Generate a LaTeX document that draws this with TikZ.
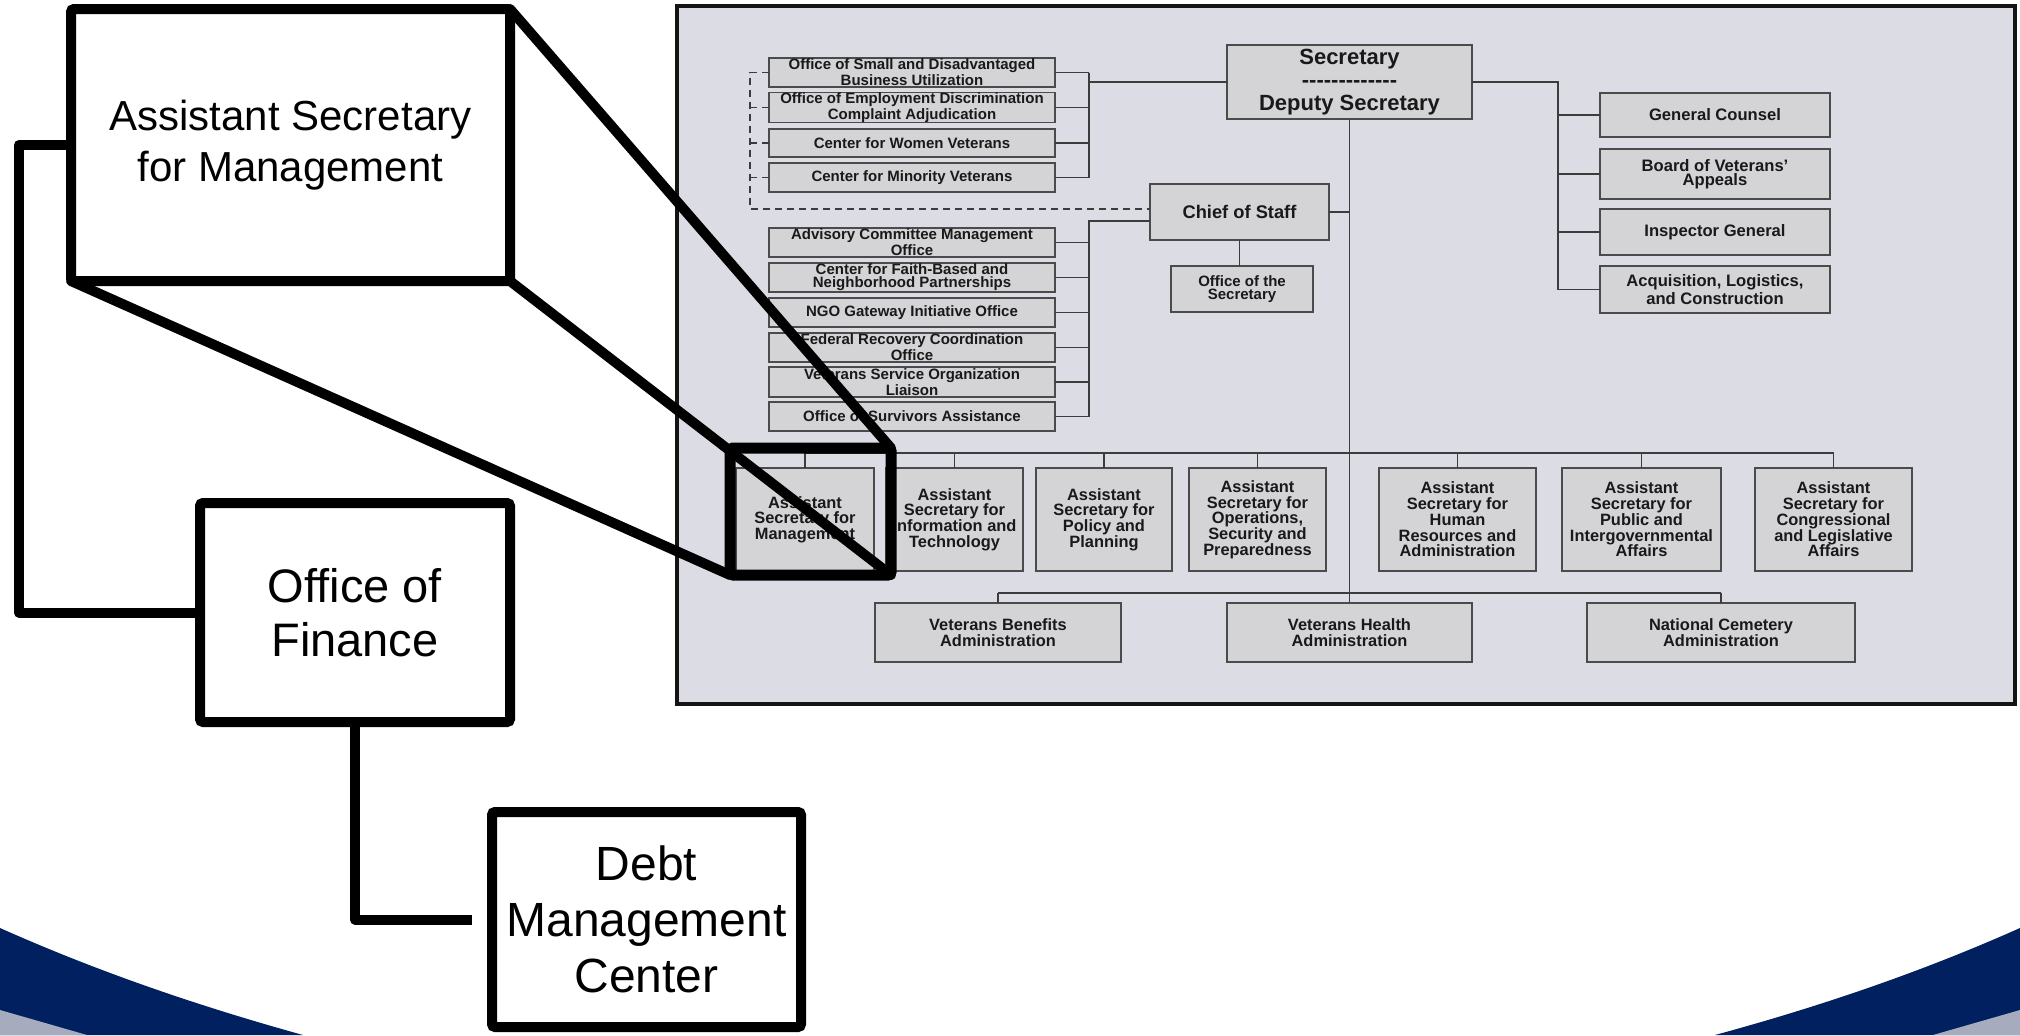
\documentclass[tikz,border=0pt]{standalone}
\usepackage{fontspec}
\setmainfont{Liberation Sans}
\usetikzlibrary{calc}
\definecolor{navy}{RGB}{0,32,96}
\definecolor{bandgray}{RGB}{166,172,189}
\definecolor{chartbg}{RGB}{220,221,228}
\definecolor{boxfill}{RGB}{212,212,215}
\definecolor{boxline}{RGB}{75,75,75}
\definecolor{conn}{RGB}{60,60,60}
\definecolor{ink}{RGB}{25,25,25}
% name, style, x1, y1, x2, y2, text  (pixel coordinates, y downwards)
\newcommand\orgbox[7]{\node[#2, minimum width={(#5-#3)*0.5pt}, minimum height={(#6-#4)*0.5pt}] (#1) at ({(#3+#5)/2},{(#4+#6)/2}) {#7};}
\begin{document}
\begin{tikzpicture}[x=0.5pt,y=-0.5pt,
  cbox/.style={draw=boxline, fill=boxfill, line width=0.9pt, inner sep=0pt, outer sep=0pt, align=center, text=ink, font=\bfseries\fontsize{7.5}{6.6}\selectfont},
  abox/.style={cbox, font=\bfseries\fontsize{8.2}{7.85}\selectfont},
  rbox/.style={cbox, font=\bfseries\fontsize{8.3}{7.2}\selectfont},
  link/.style={draw=conn, line width=0.9pt},
  dlink/.style={draw=conn, line width=0.8pt, dash pattern=on 3.5pt off 2.5pt},
  bigbox/.style={draw=black, fill=white, line width=5pt, outer sep=0pt, inner sep=0pt, align=center, rounded corners=1.5pt},
  zoomr/.style={draw=black, line width=5.5pt, outer sep=0pt, inner sep=0pt, rounded corners=1.5pt},
  thickline/.style={draw=black, line width=5pt, line join=round, line cap=round},
]
\useasboundingbox (0,0) rectangle (2020,1035);
\fill[white] (0,0) rectangle (2020,1035);

% corner waves
\fill[navy] (0,928) .. controls (101,973) and (202,1007) .. (303,1035) -- (0,1035) -- cycle;
\fill[bandgray] (0,1010) -- (87,1035) -- (0,1035) -- cycle;
\fill[navy] (2020,928) .. controls (1919,973) and (1818,1007) .. (1715,1035) -- (2020,1035) -- cycle;
\fill[bandgray] (2020,1010) -- (1933,1035) -- (2020,1035) -- cycle;

% chart frame
\draw[line width=2.3pt, draw=black!92, fill=chartbg] (677,6) rectangle (2015,704);

% top level
\orgbox{sec}{cbox, font=\bfseries\fontsize{11}{11.3}\selectfont}{1227}{45}{1472}{119}{Secretary\\-{}-{}-{}-{}-{}-{}-{}-{}-{}-{}-{}-{}-\\Deputy Secretary}
\orgbox{chief}{cbox, font=\bfseries\fontsize{9.15}{10}\selectfont}{1150}{184}{1329}{240}{Chief of Staff}
\orgbox{ots}{cbox}{1171}{266}{1313}{312}{Office of the\\Secretary}

% upper left group
\orgbox{osdbu}{cbox}{769}{58}{1055}{87}{Office of Small and Disadvantaged\\Business Utilization}
\orgbox{oedca}{cbox}{769}{93}{1055}{122}{Office of Employment Discrimination\\Complaint Adjudication}
\orgbox{cwv}{cbox}{769}{129}{1055}{157}{Center for Women Veterans}
\orgbox{cmv}{cbox}{769}{163}{1055}{192}{Center for Minority Veterans}

% lower left group
\orgbox{acmo}{cbox}{769}{228}{1055}{257}{Advisory Committee Management\\Office}
\orgbox{cfbnp}{cbox}{769}{263}{1055}{292}{Center for Faith-Based and\\Neighborhood Partnerships}
\orgbox{ngo}{cbox}{769}{298}{1055}{327}{NGO Gateway Initiative Office}
\orgbox{frco}{cbox}{769}{333}{1055}{362}{Federal Recovery Coordination\\Office}
\orgbox{vsol}{cbox}{769}{367}{1055}{397}{Veterans Service Organization\\Liaison}
\orgbox{osa}{cbox}{769}{402}{1055}{431}{Office of Survivors Assistance}

% right group
\orgbox{gc}{rbox}{1600}{93}{1830}{137}{General Counsel}
\orgbox{bva}{rbox}{1600}{149}{1830}{199}{Board of Veterans'\\Appeals}
\orgbox{ig}{rbox}{1600}{209}{1830}{255}{Inspector General}
\orgbox{alc}{rbox}{1600}{266}{1830}{313}{Acquisition, Logistics,\\and Construction}

% assistant secretaries
\orgbox{asm}{abox}{736}{468}{874}{571}{Assistant\\Secretary for\\Management}
\orgbox{asit}{abox}{886}{468}{1023}{571}{Assistant\\Secretary for\\Information and\\Technology}
\orgbox{aspp}{abox}{1036}{468}{1172}{571}{Assistant\\Secretary for\\Policy and\\Planning}
\orgbox{asosp}{abox}{1189}{468}{1326}{571}{Assistant\\Secretary for\\Operations,\\Security and\\Preparedness}
\orgbox{ashr}{abox}{1379}{468}{1536}{571}{Assistant\\Secretary for\\Human\\Resources and\\Administration}
\orgbox{aspi}{abox}{1562}{468}{1721}{571}{Assistant\\Secretary for\\Public and\\Intergovernmental\\Affairs}
\orgbox{ascl}{abox}{1755}{468}{1912}{571}{Assistant\\Secretary for\\Congressional\\and Legislative\\Affairs}

% administrations
\orgbox{vba}{abox}{875}{603}{1121}{662}{Veterans Benefits\\Administration}
\orgbox{vha}{abox}{1227}{603}{1472}{662}{Veterans Health\\Administration}
\orgbox{nca}{abox}{1587}{603}{1855}{662}{National Cemetery\\Administration}

% chart connectors
\coordinate (busL) at (1089,0);
\coordinate (busR) at (1558,0);
\coordinate (cy) at (0,221);
\coordinate (asy) at (0,453);
\coordinate (ady) at (0,593);
\coordinate (dl) at (750,209);

\draw[link] (sec.west) -- (sec.west -| busL);
\draw[link] (osdbu.east -| busL) -- (cmv.east -| busL);
\foreach \n in {osdbu,oedca,cwv,cmv} \draw[link] (\n.east) -- (\n.east -| busL);

\draw[link] (chief.west |- cy) -- (busL |- cy) -- (osa.east -| busL);
\foreach \n in {acmo,cfbnp,ngo,frco,vsol,osa} \draw[link] (\n.east) -- (\n.east -| busL);

\draw[link] (sec.east) -| (busR |- alc.west);
\foreach \n in {gc,bva,ig,alc} \draw[link] (\n.west) -- (\n.west -| busR);

\draw[link] (sec.south) -- (vha.north);
\draw[link] (chief.east) -- (chief.east -| sec.south);
\draw[link] (chief.south) -- (chief.south |- ots.north);

\draw[link] (asm.north |- asy) -- (ascl.north |- asy);
\foreach \n in {asm,asit,aspp,asosp,ashr,aspi,ascl} \draw[link] (\n.north) -- (\n.north |- asy);
\draw[link] (vba.north |- ady) -- (nca.north |- ady);
\foreach \n in {vba,nca} \draw[link] (\n.north) -- (\n.north |- ady);

\draw[dlink] (osdbu.west) -| (dl) -- (dl -| chief.west);
\foreach \n in {oedca,cwv,cmv} \draw[dlink] (\n.west) -- (\n.west -| dl);

% magnified overlay
\orgbox{zoomrect}{zoomr}{730}{448}{891}{575}{}
\orgbox{asmbig}{bigbox, font=\fontsize{21}{25.8}\selectfont}{71}{9}{510}{281}{Assistant Secretary\\for Management}
\orgbox{oof}{bigbox, font=\fontsize{23.5}{27}\selectfont}{200}{503}{510}{722}{Office of\\Finance}
\orgbox{debt}{bigbox, font=\fontsize{24}{28}\selectfont}{492}{812}{801}{1027}{Debt\\Management\\Center}

\draw[thickline] (asmbig.north east) -- (zoomrect.north east);
\draw[thickline] (asmbig.south east) -- (zoomrect.south east);
\draw[thickline] (asmbig.south west) -- (zoomrect.south west);

\coordinate (lx) at (19,0);
\draw[thickline] (asmbig.west) -| (lx |- oof.west) -- (oof.west);
\draw[thickline, line cap=butt] (oof.south) |- ([xshift=-10pt]debt.west);
\end{tikzpicture}
\end{document}
